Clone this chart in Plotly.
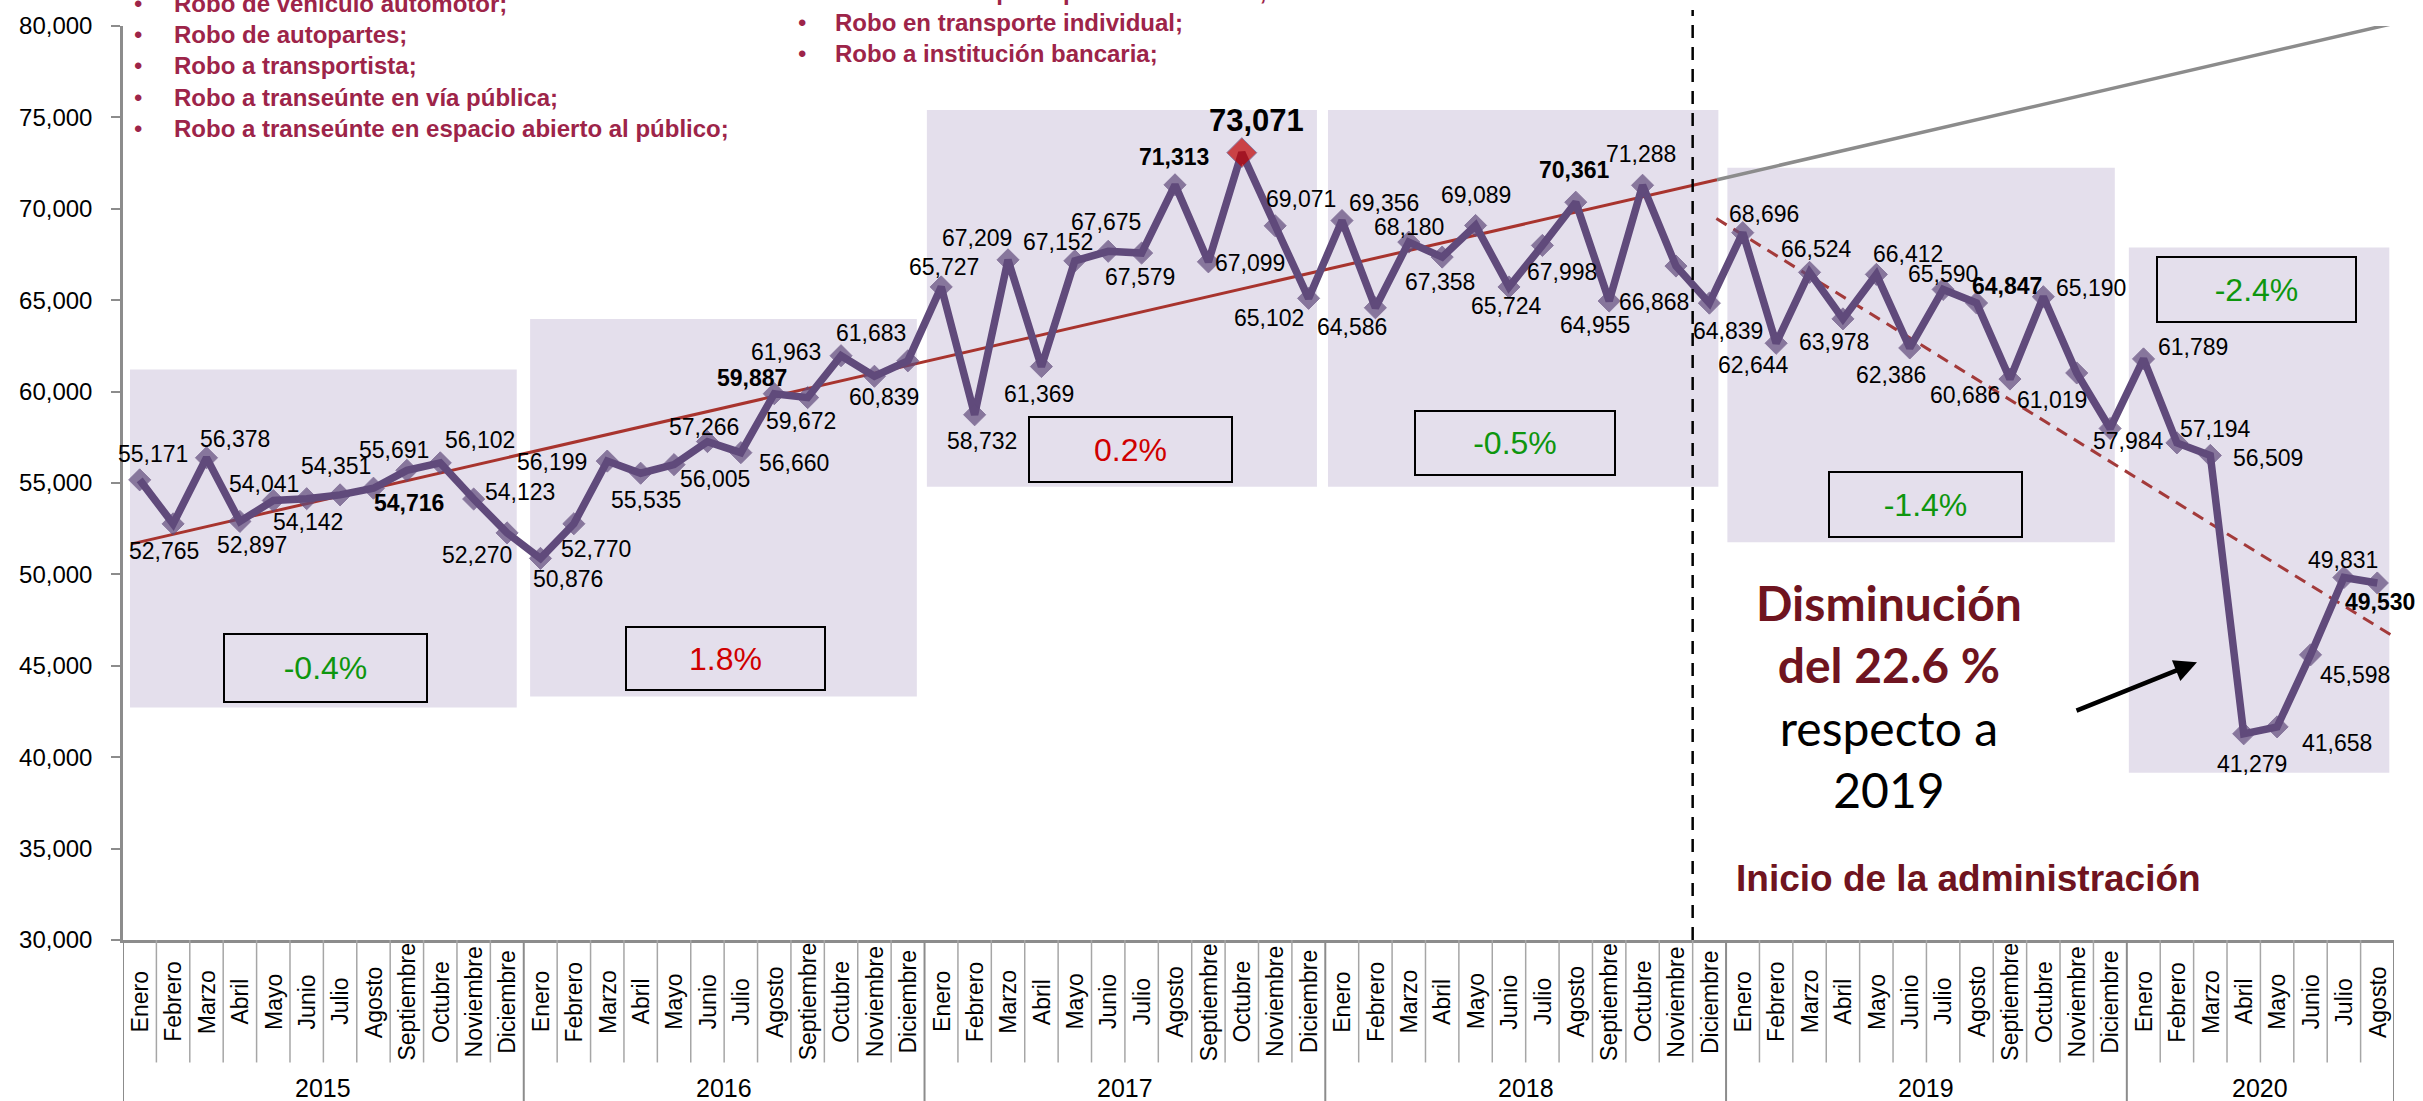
"""
Robo - incidencia mensual 2015-2020
Line chart with grouped month / year category axis using Plotly
"""

import plotly.graph_objects as go

# ---------------------------------------------------------------- data
YEARS = ["2015", "2016", "2017", "2018", "2019", "2020"]
MONTHS = ["Enero", "Febrero", "Marzo", "Abril", "Mayo", "Junio", "Julio",
          "Agosto", "Septiembre", "Octubre", "Noviembre", "Diciembre"]
MONTHS_PER_YEAR = [12, 12, 12, 12, 12, 8]

VALUES = [
    55171, 52765, 56378, 52897, 54041, 54142, 54351, 54716, 55691, 56102, 54123, 52270,
    50876, 52770, 56199, 55535, 56005, 57266, 56660, 59887, 59672, 61963, 60839, 61683,
    65727, 58732, 67209, 61369, 67152, 67675, 67579, 71313, 67099, 73071, 69071, 65102,
    69356, 64586, 68180, 67358, 69089, 65724, 67998, 70361, 64955, 71288, 66868, 64839,
    68696, 62644, 66524, 63978, 66412, 62386, 65590, 64847, 60686, 65190, 61019, 57984,
    61789, 57194, 56509, 41279, 41658, 45598, 49831, 49530,
]

YEAR_CHANGE = ["-0.4%", "1.8%", "0.2%", "-0.5%", "-1.4%", "-2.4%"]
BOLD_LABELS = [7, 19, 31, 43, 55, 67]
PEAK = 33

# linear trend 2015-2018 (red, grey projection) and 2019-2020 (dashed)
TREND_X = [-0.24, 47.23, 67.49]
TREND_Y = [51672, 71590, 80142]
TREND_2019_X = [47.21, 67.5]
TREND_2019_Y = [69466, 46590]
ADMIN_START = 46.5

BULLETS_LEFT = [
    "Robo de vehículo automotor;",
    "Robo de autopartes;",
    "Robo a transportista;",
    "Robo a transeúnte en vía pública;",
    "Robo a transeúnte en espacio abierto al público;",
]
BULLETS_MID = [
    "Robo en transporte público colectivo;",
    "Robo en transporte individual;",
    "Robo a institución bancaria;",
]

# ---------------------------------------------------------------- style
W, H = 2423, 1101
MARGIN = dict(l=123, r=29, t=22, b=161)
PURPLE = "#604A7B"
LAVENDER = "#E4DFEC"
MAGENTA = "#9D2449"
MAROON = "#6F1420"
GREEN = "#0E960E"
RED = "#D00000"
AXIS_GREY = "#8C8C8C"
FONT = "Liberation Sans, Arial, sans-serif"

# label offset from its point (dx, dy) in px, dy positive = down
LABEL_OFFSETS = [
    (13, -26), (-9, 27), (29, -19), (12, 24), (-9, -17), (1, 23),
    (-4, -29), (36, 15), (-13, -20), (40, -23), (46, -7), (-30, 22),
    (28, 21), (22, 25), (-55, 1), (5, 27), (41, 14), (-3, -15),
    (53, 10), (-22, -16), (-7, 23), (-55, -4), (10, 21), (-37, -28),
    (3, -20), (7, 26), (-31, -22), (-2, 27), (-17, -19), (-2, -29),
    (-2, 24), (-1, -28), (42, 1), (15, -32), (26, -27), (-40, 20),
    (42, -18), (-23, 19), (0, -15), (-2, 25), (0, -30), (-2, 19),
    (20, 27), (-1, -32), (-14, 24), (-2, -31), (-22, 36), (19, 28),
    (21, -19), (-23, 22), (7, -23), (-9, 23), (32, -20), (-19, 27),
    (0, -15), (30, -17), (-45, 16), (48, -9), (-25, 27), (18, 13),
    (49, -12), (39, -14), (58, 3), (8, 30), (60, 16), (44, 20),
    (-1, -17), (3, 19),
]

# shaded band per year: x0, x1 (category units), y0, y1 (values)
YEAR_BANDS = [
    (-0.29, 11.29, 42723, 61204),
    (11.69, 23.27, 43322, 63965),
    (23.57, 35.25, 54800, 75403),
    (35.58, 47.27, 54800, 75403),
    (47.54, 59.14, 51765, 72244),
    (59.56, 67.36, 39146, 67887),
]
# percent boxes: centre x, centre y, width, height (px on the page)
CHANGE_BOXES = [
    (325, 667, 205, 70),
    (725, 657, 201, 65),
    (1130, 447, 205, 67),
    (1515, 441, 202, 66),
    (1925, 503, 195, 67),
    (2256, 287, 201, 67),
]

PLOT_W = W - MARGIN["l"] - MARGIN["r"]
PLOT_H = H - MARGIN["t"] - MARGIN["b"]


def paper_x(px):
    return (px - MARGIN["l"]) / PLOT_W


def paper_y(py):
    return (H - MARGIN["b"] - py) / PLOT_H


def note(px, py, text, size, color, family=FONT, **kw):
    """Free text placed by page pixel, centred unless told otherwise"""
    ann = dict(x=paper_x(px), y=paper_y(py), xref="paper", yref="paper",
               xanchor="center", yanchor="middle", text=text, showarrow=False,
               font=dict(family=family, size=size, color=color))
    ann.update(kw)
    return ann


def month_labels():
    labels = []
    for n in MONTHS_PER_YEAR:
        labels.extend(MONTHS[:n])
    return labels


def build_figure() -> go.Figure:
    x = list(range(len(VALUES)))
    fig = go.Figure()

    # trend lines
    fig.add_trace(go.Scatter(x=TREND_X[:2], y=TREND_Y[:2], mode="lines",
                             line=dict(color="#A8342E", width=3), hoverinfo="skip"))
    fig.add_trace(go.Scatter(x=TREND_X[1:], y=TREND_Y[1:], mode="lines",
                             line=dict(color="#8C8C8C", width=3.5), hoverinfo="skip"))
    fig.add_trace(go.Scatter(x=TREND_2019_X, y=TREND_2019_Y, mode="lines",
                             line=dict(color="#A33A3A", width=3, dash="12px,8px"),
                             hoverinfo="skip"))

    colors = [PURPLE] * len(VALUES)
    sizes = [17] * len(VALUES)
    colors[PEAK] = "#C00000"
    sizes[PEAK] = 23
    fig.add_trace(go.Scatter(
        x=x, y=VALUES, mode="lines+markers",
        line=dict(color=PURPLE, width=7.5),
        marker=dict(symbol="diamond", size=sizes, color=colors),
    ))

    shapes = []
    for x0, x1, y0, y1 in YEAR_BANDS:
        shapes.append(dict(type="rect", xref="x", yref="y", x0=x0, x1=x1, y0=y0, y1=y1,
                           fillcolor=LAVENDER, line=dict(width=0), layer="below"))

    # category table separators
    year_edges = [-0.5]
    for n in MONTHS_PER_YEAR:
        year_edges.append(year_edges[-1] + n)
    for i in range(len(VALUES) + 1):
        b = i - 0.5
        is_year = b in year_edges
        shapes.append(dict(type="line", xref="x", yref="paper", x0=b, x1=b,
                           y0=0, y1=paper_y(1110 if is_year else 1063),
                           line=dict(color="#A6A6A6" if not is_year else AXIS_GREY,
                                     width=2 if is_year else 1.5)))

    # start of administration
    shapes.append(dict(type="line", xref="x", yref="paper", x0=ADMIN_START, x1=ADMIN_START,
                       y0=0, y1=paper_y(6), line=dict(color="black", width=2.5,
                                                      dash="13px,9px")))

    annotations = []
    for i, v in enumerate(VALUES):
        dx, dy = LABEL_OFFSETS[i]
        text = f"{v:,}"
        size = 23
        if i in BOLD_LABELS:
            text = f"<b>{text}</b>"
        if i == PEAK:
            text = f"<b>{v:,}</b>"
            size = 31
        annotations.append(dict(x=i, y=v, xref="x", yref="y", text=text, showarrow=False,
                                xanchor="center", yanchor="middle",
                                xshift=dx, yshift=-dy,
                                font=dict(family=FONT, size=size, color="black")))

    # month and year labels
    for i, m in enumerate(month_labels()):
        annotations.append(dict(x=i, y=paper_y(1002), xref="x", yref="paper", text=m,
                                xanchor="center", yanchor="middle",
                                textangle=-90, showarrow=False,
                                font=dict(family=FONT, size=23, color="black")))
    start = 0
    for year, n in zip(YEARS, MONTHS_PER_YEAR):
        annotations.append(dict(x=start + (n - 1) / 2, y=paper_y(1073), xref="x",
                                yref="paper", xanchor="center", yanchor="top",
                                text=year, showarrow=False,
                                font=dict(family=FONT, size=25, color="black")))
        start += n

    # yearly change boxes
    for (cx, cy, bw, bh), txt in zip(CHANGE_BOXES, YEAR_CHANGE):
        annotations.append(note(cx, cy, txt, 32, GREEN if txt.startswith("-") else RED,
                                width=bw - 4, height=bh - 4, bgcolor=LAVENDER,
                                bordercolor="black", borderwidth=2, borderpad=0))

    # crime type bullets
    for items, bx, tx, mid_y in [(BULLETS_LEFT, 138, 172, 62),
                                 (BULLETS_MID, 802, 833, 18)]:
        annotations.append(note(bx, mid_y, "<br>".join(["•"] * len(items)), 24, MAGENTA))
        annotations.append(note(tx, mid_y, "<br>".join(f"<b>{t}</b>" for t in items),
                                24, MAGENTA, xanchor="left", align="left"))

    annotations.append(note(
        1889, 695,
        (f"<span style='color:{MAROON}'><b>Disminución</b></span><br>"
         f"<span style='color:{MAROON}'><b>del 22.6 %</b></span><br>"
         "respecto a<br>2019"),
        48, "black", family="Lato, sans-serif",
    ))
    annotations.append(note(1968, 878, "<b>Inicio de la administración</b>", 37, MAROON))
    annotations.append(dict(
        x=paper_x(2197), y=paper_y(661), xref="paper", yref="paper", text="",
        showarrow=True, ax=-122, ay=49, arrowcolor="black", arrowwidth=4.5,
        arrowhead=2, arrowsize=1,
    ))

    fig.update_layout(
        width=W, height=H, margin=MARGIN,
        paper_bgcolor="white", plot_bgcolor="white", showlegend=False,
        shapes=shapes, annotations=annotations,
        xaxis=dict(range=[-0.5, len(VALUES) - 0.5], showgrid=False, zeroline=False,
                   showline=True, linecolor=AXIS_GREY, linewidth=2.5,
                   showticklabels=False, ticks=""),
        yaxis=dict(range=[30000, 80000], tickvals=list(range(30000, 80001, 5000)),
                   tickformat=",d", showgrid=False, zeroline=False,
                   showline=True, linecolor=AXIS_GREY, linewidth=2.5,
                   ticks="outside", ticklen=9, tickwidth=2, tickcolor=AXIS_GREY,
                   ticklabelstandoff=14,
                   tickfont=dict(family=FONT, size=24, color="black")),
    )
    return fig


fig = build_figure()
fig.write_html("out.html", config={"displayModeBar": False},
               post_script="document.body.style.margin='0';")
